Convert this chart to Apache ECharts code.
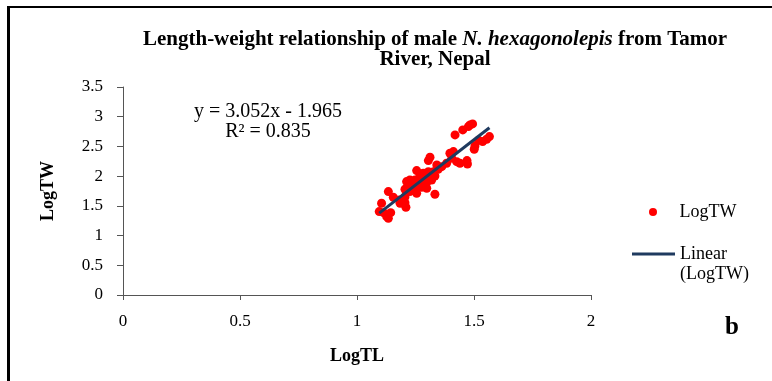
<!DOCTYPE html>
<html>
<head>
<meta charset="utf-8">
<script src="https://cdn.jsdelivr.net/npm/echarts@6/dist/echarts.min.js"></script>
<style>html,body{margin:0;padding:0;background:#fff}#c{width:772px;height:381px}</style>
</head>
<body>
<div id="c"></div>
<script>
// Data
const logTL = [1.494,1.483,1.476,1.452,1.419,1.566,1.554,1.537,1.519,1.504,1.501,1.412,1.397,1.426,1.440,1.472,1.470,1.312,1.305,1.362,1.347,1.327,1.305,1.255,1.333,1.312,1.290,1.269,1.248,1.226,1.212,1.276,1.298,1.255,1.234,1.212,1.276,1.248,1.226,1.333,1.134,1.155,1.181,1.205,1.209,1.184,1.105,1.095,1.113,1.144,1.134,1.127,1.383,1.405,1.341,1.283,1.319,1.298,1.255,1.205,1.219,1.269,1.205,1.240,1.262];
const logTW = [2.879,2.862,2.834,2.778,2.694,2.666,2.621,2.581,2.604,2.508,2.452,2.413,2.385,2.244,2.216,2.205,2.262,2.318,2.262,2.160,2.115,2.076,2.076,2.093,2.003,2.003,1.992,1.964,1.936,1.936,1.908,1.908,1.891,1.852,1.824,1.796,1.813,1.757,1.740,1.695,1.740,1.645,1.600,1.554,1.476,1.544,1.544,1.403,1.386,1.386,1.290,1.318,2.216,2.300,2.188,2.048,1.936,1.796,1.711,1.650,1.852,2.037,1.780,1.880,1.950];
const slope = [3.052];
const intercept = [-1.965];
const xTicks = [0, 0.5, 1, 1.5, 2];
const yTicks = [0, 0.5, 1, 1.5, 2, 2.5, 3, 3.5];

const pts = logTL.map((x, i) => [x, logTW[i]]);
const xMin = Math.min(...logTL), xMax = Math.max(...logTL);
const trend = [xMin, xMax].map(x => [x, slope[0] * x + intercept[0]]);

const serif = '"Liberation Serif","Times New Roman",serif';
const lineColor = '#1f3a5f';
const legendText = {fontFamily: serif, fontSize: 18, color: '#000', lineHeight: 20};
const chart = echarts.init(document.getElementById('c'), null, {renderer: 'canvas'});
chart.setOption({
  animation: false,
  backgroundColor: '#fff',
  title: {
    left: 430, top: 25, textAlign: 'center',
    text: '{b|Length-weight relationship of male }{i|N. hexagonolepis}{b| from Tamor}\n{b|River, Nepal}',
    textStyle: {
      fontFamily: serif, fontSize: 21, fontWeight: 'bold', color: '#000', lineHeight: 20,
      rich: {
        b: {fontFamily: serif, fontSize: 21, fontWeight: 'bold', color: '#000', lineHeight: 20},
        i: {fontFamily: serif, fontSize: 21, fontWeight: 'bold', fontStyle: 'italic', color: '#000', lineHeight: 20}
      }
    }
  },
  grid: {left: 123, right: 181, top: 87, bottom: 86, containLabel: false},
  xAxis: {
    type: 'value', min: xTicks[0], max: xTicks[xTicks.length - 1], interval: 0.5,
    name: 'LogTL', nameLocation: 'middle', nameGap: 52,
    nameTextStyle: {fontFamily: serif, fontSize: 18, fontWeight: 'bold', color: '#000'},
    axisLine: {show: true, lineStyle: {color: '#555', width: 1}},
    axisTick: {show: true, length: 5, lineStyle: {color: '#555'}},
    axisLabel: {fontFamily: serif, fontSize: 17, color: '#000', margin: 18},
    splitLine: {show: false}
  },
  yAxis: {
    type: 'value', min: yTicks[0], max: yTicks[yTicks.length - 1], interval: 0.5,
    name: 'LogTW', nameLocation: 'middle', nameGap: 66, nameRotate: 90,
    nameTextStyle: {fontFamily: serif, fontSize: 18, fontWeight: 'bold', color: '#000'},
    axisLine: {show: true, lineStyle: {color: '#555', width: 1}},
    axisTick: {show: true, length: 6, lineStyle: {color: '#555'}},
    axisLabel: {fontFamily: serif, fontSize: 17, color: '#000', margin: 20},
    splitLine: {show: false}
  },
  legend: [
    {
      orient: 'vertical', left: 644, top: 197, itemWidth: 43, itemHeight: 8,
      textStyle: legendText,
      data: [{name: 'LogTW', icon: 'circle'}]
    },
    {
      orient: 'vertical', left: 627, top: 219, itemWidth: 43, itemHeight: 8,
      textStyle: Object.assign({}, legendText, {rich: {a: legendText}}),
      data: [{name: 'Linear (LogTW)', icon: 'path://M0,0L43,0L43,3L0,3Z'}],
      formatter: n => '{a| }\n{a|Linear}\n{a|(LogTW)}'
    }
  ],
  series: [
    {
      name: 'LogTW', type: 'scatter', data: pts, symbol: 'circle', symbolSize: 9,
      itemStyle: {color: '#ff0000', opacity: 1}, z: 2
    },
    {
      name: 'Linear (LogTW)', type: 'line', data: trend, showSymbol: false, symbol: 'none',
      lineStyle: {color: lineColor, width: 3}, itemStyle: {color: lineColor}, z: 3
    }
  ],
  graphic: [
    {type: 'rect', shape: {x: 7, y: 7, width: 3, height: 380}, style: {fill: '#000'}},
    {type: 'rect', shape: {x: 7, y: 6, width: 770, height: 2}, style: {fill: '#000'}},
    {type: 'text', x: 268, y: 112, style: {text: 'y = 3.052x - 1.965', fontFamily: serif, fontSize: 20, fill: '#000', textAlign: 'center', textVerticalAlign: 'middle'}},
    {type: 'text', x: 268, y: 132, style: {text: 'R² = 0.835', fontFamily: serif, fontSize: 20, fill: '#000', textAlign: 'center', textVerticalAlign: 'middle'}},
    {type: 'text', x: 732, y: 328, style: {text: 'b', fontFamily: serif, fontSize: 25, fontWeight: 'bold', fill: '#000', textAlign: 'center', textVerticalAlign: 'middle'}}
  ]
});
</script>
</body>
</html>
